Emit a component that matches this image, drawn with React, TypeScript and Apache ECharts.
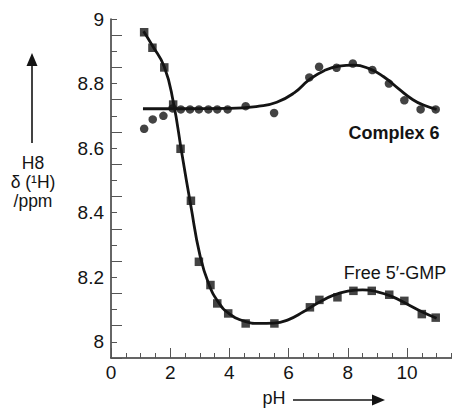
import React, { useEffect, useRef } from "react";
import * as echarts from "echarts";

// Free 5'-GMP measured points
const gmpX = [1.12, 1.4, 1.8, 2.1, 2.35, 2.7, 2.97, 3.36, 3.59, 3.96, 4.55, 5.52, 6.72, 7.04, 7.65, 8.19, 8.81, 9.4, 9.91, 10.5, 10.97];
const gmpY = [8.959, 8.911, 8.85, 8.735, 8.598, 8.437, 8.248, 8.176, 8.119, 8.088, 8.057, 8.057, 8.107, 8.13, 8.138, 8.158, 8.158, 8.146, 8.127, 8.086, 8.075];

// Complex 6 measured points
const cpxX = [1.12, 1.41, 1.77, 2.08, 2.36, 2.67, 2.97, 3.29, 3.59, 3.94, 4.55, 5.51, 6.7, 7.03, 7.62, 8.17, 8.83, 9.39, 9.91, 10.46, 10.97];
const cpxY = [8.66, 8.689, 8.7, 8.723, 8.72, 8.72, 8.72, 8.72, 8.72, 8.72, 8.73, 8.709, 8.819, 8.852, 8.849, 8.862, 8.842, 8.8, 8.748, 8.72, 8.72];

// Fitted curves
const gmpFitX = [1.1, 1.4, 1.8, 2.1, 2.4, 2.7, 3.0, 3.3, 3.65, 4.0, 4.5, 5.0, 5.5, 6.0, 6.5, 7.0, 7.5, 8.0, 8.5, 9.0, 9.5, 10.0, 10.5, 11.0];
const gmpFitY = [8.962, 8.917, 8.852, 8.745, 8.58, 8.42, 8.27, 8.18, 8.12, 8.087, 8.064, 8.057, 8.058, 8.069, 8.093, 8.121, 8.144, 8.157, 8.161, 8.155, 8.14, 8.117, 8.093, 8.073];
const cpxFitX = [1.08, 2.5, 4.0, 5.0, 5.6, 6.2, 6.7, 7.2, 7.7, 8.2, 8.7, 9.2, 9.7, 10.2, 10.6, 11.0];
const cpxFitY = [8.722, 8.722, 8.723, 8.73, 8.742, 8.772, 8.812, 8.84, 8.854, 8.857, 8.847, 8.822, 8.785, 8.75, 8.732, 8.72];

const xTickLabels = ["0", "2", "4", "6", "8", "10"];
const yTickLabels = ["8", "8.2", "8.4", "8.6", "8.8", "9"];

const FONT = "Liberation Sans, Arial, Helvetica, sans-serif";
const INK = "#141414";

const zip = (xs: number[], ys: number[]) => xs.map((x, i) => [x, ys[i]]);

export default function App() {
  const ref = useRef<HTMLDivElement>(null);
  useEffect(() => {
    document.body.style.margin = "0";
    if (!ref.current) return;
    const chart = echarts.init(ref.current, undefined, { renderer: "svg" });
    const gridLeft = 111;
    const gridRight = -14.2;
    const gridTop = 19;
    const gridBottom = 51;
    const pxPerY = (409 - gridTop - gridBottom) / (9.0 - 7.95);
    chart.setOption({
      animation: false,
      backgroundColor: "#ffffff",
      grid: [
        { left: gridLeft, right: gridRight, top: gridTop, bottom: gridBottom, outerBoundsMode: "none" },
        { left: gridLeft, right: gridRight, top: gridTop + 0.05 * pxPerY, bottom: gridBottom, outerBoundsMode: "none" },
      ],
      xAxis: [
        {
          type: "value",
          gridIndex: 0,
          min: 0,
          max: 12,
          interval: 2,
          axisLine: { show: true, onZero: false, lineStyle: { color: "#333", width: 1.5 } },
          axisTick: { show: true, inside: true, length: 10, lineStyle: { color: "#555", width: 1 } },
          minorTick: { show: true, splitNumber: 4, length: 5, lineStyle: { color: "#555", width: 1 } },
          splitLine: { show: false },
          minorSplitLine: { show: false },
          axisLabel: {
            margin: 5,
            fontSize: 19,
            fontFamily: FONT,
            color: INK,
            formatter: (v: number) => {
              const s = String(Math.round(v));
              return xTickLabels.includes(s) ? s : "";
            },
          },
        },
        { type: "value", gridIndex: 1, min: 0, max: 12, show: false },
      ],
      yAxis: [
        {
          type: "value",
          gridIndex: 0,
          min: 7.95,
          max: 9.0,
          interval: 0.05,
          axisLine: { show: true, onZero: false, lineStyle: { color: "#333", width: 1.5 } },
          axisTick: { show: true, inside: true, length: 6, lineStyle: { color: "#555", width: 1 } },
          splitLine: { show: false },
          axisLabel: {
            margin: 7,
            fontSize: 19,
            fontFamily: FONT,
            color: INK,
            formatter: (v: number) => {
              const s = String(Math.round(v * 100) / 100);
              return yTickLabels.includes(s) ? s : "";
            },
          },
        },
        {
          type: "value",
          gridIndex: 1,
          min: 7.95,
          max: 8.95,
          interval: 0.1,
          axisLine: { show: false },
          axisTick: { show: true, inside: true, length: 11, lineStyle: { color: "#555", width: 1 } },
          splitLine: { show: false },
          axisLabel: { show: false },
        },
      ],
      series: [
        {
          type: "line",
          data: zip(gmpFitX, gmpFitY),
          smooth: 0.5,
          symbol: "none",
          lineStyle: { color: INK, width: 2.8 },
          z: 2,
        },
        {
          type: "line",
          data: zip(cpxFitX, cpxFitY),
          smooth: 0.5,
          symbol: "none",
          lineStyle: { color: INK, width: 2.8 },
          z: 2,
        },
        {
          type: "scatter",
          data: zip(gmpX, gmpY),
          symbol: "rect",
          symbolSize: 8.5,
          itemStyle: { color: INK },
          z: 3,
        },
        {
          type: "scatter",
          data: zip(cpxX, cpxY),
          symbol: "circle",
          symbolSize: 8.5,
          itemStyle: { color: INK },
          z: 3,
        },
      ],
      graphic: [
        {
          type: "text",
          x: 394,
          y: 133,
          style: {
            text: "Complex 6",
            fontSize: 18,
            fontWeight: "bold",
            fontFamily: FONT,
            fill: INK,
            align: "center",
            verticalAlign: "middle",
            textAlign: "center",
            textVerticalAlign: "middle",
          },
        },
        {
          type: "text",
          x: 395,
          y: 273,
          style: {
            text: "Free 5\u2032-GMP",
            fontSize: 18,
            fontFamily: FONT,
            fill: INK,
            align: "center",
            verticalAlign: "middle",
            textAlign: "center",
            textVerticalAlign: "middle",
          },
        },
        {
          type: "text",
          x: 33,
          y: 182,
          style: {
            text: "H8\n\u03b4 (\u00b9H)\n/ppm",
            fontSize: 17.5,
            lineHeight: 19,
            fontFamily: FONT,
            fill: INK,
            align: "center",
            verticalAlign: "middle",
            textAlign: "center",
            textVerticalAlign: "middle",
          },
        },
        {
          type: "line",
          shape: { x1: 32, y1: 143, x2: 32, y2: 64 },
          style: { stroke: INK, lineWidth: 1.6 },
        },
        {
          type: "polygon",
          shape: { points: [[26.5, 66], [32, 53], [37.5, 66]] },
          style: { fill: INK },
        },
        {
          type: "text",
          x: 274,
          y: 398,
          style: {
            text: "pH",
            fontSize: 18,
            fontFamily: FONT,
            fill: INK,
            align: "center",
            verticalAlign: "middle",
            textAlign: "center",
            textVerticalAlign: "middle",
          },
        },
        {
          type: "line",
          shape: { x1: 293, y1: 400, x2: 374, y2: 400 },
          style: { stroke: INK, lineWidth: 1.6 },
        },
        {
          type: "polygon",
          shape: { points: [[372, 394.5], [385, 400], [372, 405.5]] },
          style: { fill: INK },
        },
      ],
    });
    return () => chart.dispose();
  }, []);
  return <div ref={ref} style={{ width: 452, height: 409 }} />;
}
